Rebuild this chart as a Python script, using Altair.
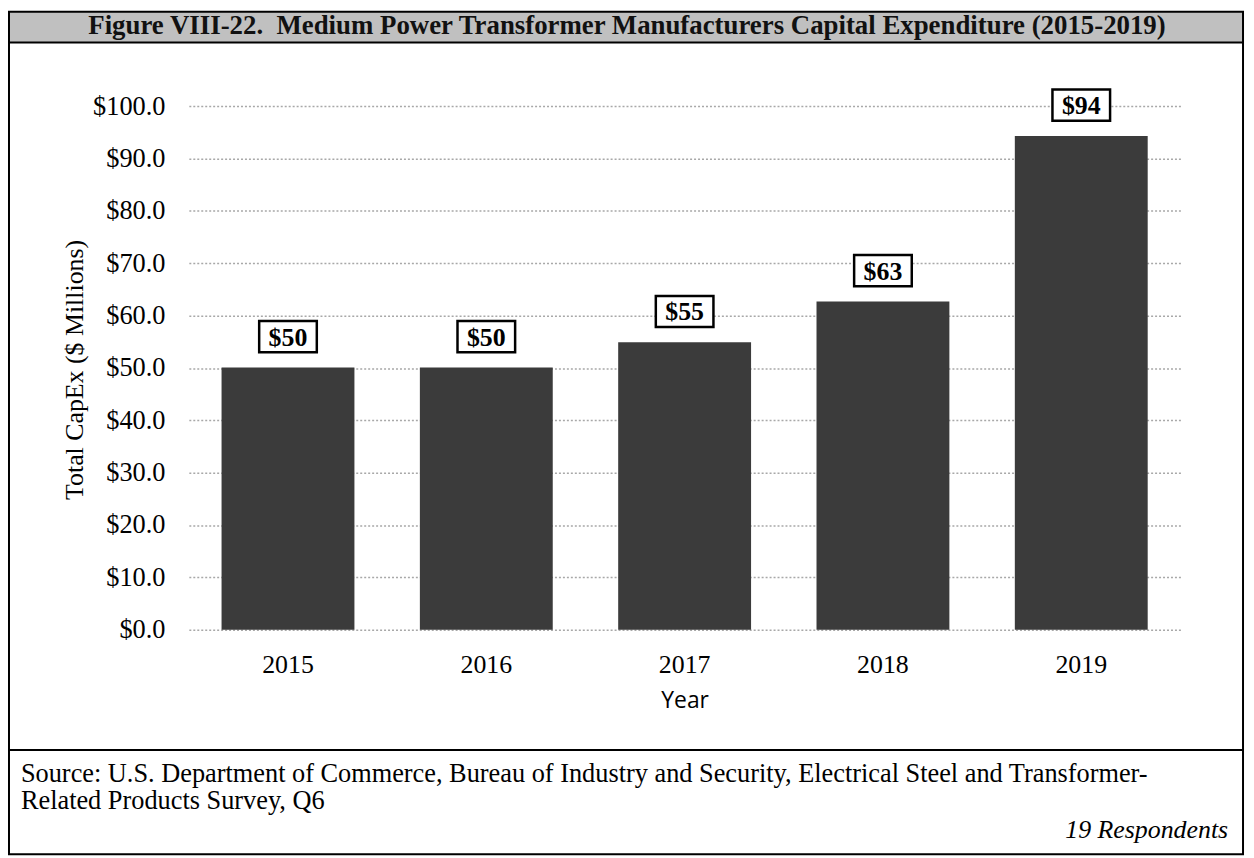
import altair as alt
import pandas as pd

years = ["2015", "2016", "2017", "2018", "2019"]
capex = [50.1, 50.1, 54.9, 62.7, 94.3]
labels = ["$50", "$50", "$55", "$63", "$94"]
y_ticks = [0, 10, 20, 30, 40, 50, 60, 70, 80, 90, 100]

title_text = "Figure VIII-22.\u00a0 Medium Power Transformer Manufacturers Capital Expenditure (2015-2019)"
source_line1 = "Source: U.S. Department of Commerce, Bureau of Industry and Security, Electrical Steel and Transformer-"
source_line2 = "Related Products Survey, Q6"
respondents = "19 Respondents"

df = pd.DataFrame({"Year": years, "CapEx": capex, "Label": labels})
one = pd.DataFrame({"k": [0]})

W, H = 998, 527
SERIF = "Liberation Serif"

x_enc = alt.X(
    "Year:N",
    scale=alt.Scale(paddingInner=0.33, paddingOuter=0.165),
    axis=alt.Axis(
        title="Year", labelAngle=0, domain=False, ticks=False, grid=False,
        labelFont=SERIF, labelFontSize=26, labelColor="black", labelPadding=22,
        titleFont="Open Sans", titleFontSize=23, titleFontWeight="normal",
        titleColor="black", titleY=71, titleBaseline="middle",
    ),
)
y_enc = alt.Y(
    "CapEx:Q",
    scale=alt.Scale(domain=[0, 100], nice=False),
    axis=alt.Axis(
        values=y_ticks, format="$.1f", title="Total CapEx ($ Millions)",
        domain=False, ticks=False, grid=True,
        gridColor="#a8a8a8", gridDash=[2, 2], gridWidth=1.5,
        labelFont=SERIF, labelFontSize=26.5, labelColor="black", labelPadding=24,
        titleFont=SERIF, titleFontSize=26, titleFontWeight="normal", titleColor="black",
        titleX=-115, titleY=265, titleBaseline="middle", titleAngle=-90,
    ),
)

bars = alt.Chart(df).mark_bar(color="#3b3b3b").encode(x=x_enc, y=y_enc)

boxes = alt.Chart(df).mark_point(
    shape="M-1,-0.54L1,-0.54L1,0.54L-1,0.54Z", size=3364,
    filled=True, fill="white", stroke="black", strokeWidth=2.5, opacity=1, yOffset=-31,
).encode(x=alt.X("Year:N"), y=alt.Y("CapEx:Q"))

texts = alt.Chart(df).mark_text(
    font=SERIF, fontSize=26, fontWeight="bold", color="black",
    baseline="middle", align="center", yOffset=-30,
).encode(x=alt.X("Year:N"), y=alt.Y("CapEx:Q"), text="Label:N")

title_bar = alt.Chart(one).mark_rect(fill="#c0c0c0").encode(
    x=alt.value(-181), x2=alt.value(1061), y=alt.value(-95), y2=alt.value(-64)
)
frame = alt.Chart(one).mark_rect(fillOpacity=0, stroke="black", strokeWidth=2).encode(
    x=alt.value(-181), x2=alt.value(1061), y=alt.value(-95), y2=alt.value(753)
)
rule_top = alt.Chart(one).mark_rule(color="black", strokeWidth=2).encode(
    x=alt.value(-181), x2=alt.value(1061), y=alt.value(-64)
)
rule_bottom = alt.Chart(one).mark_rule(color="black", strokeWidth=2).encode(
    x=alt.value(-181), x2=alt.value(1061), y=alt.value(648)
)
title_mark = alt.Chart(one).mark_text(
    font=SERIF, fontSize=27, fontWeight="bold", color="#111111",
    align="center", baseline="middle",
).encode(x=alt.value(441), y=alt.value(-81), text=alt.value(title_text))
src1 = alt.Chart(one).mark_text(
    font=SERIF, fontSize=26.5, color="black", align="left", baseline="middle",
).encode(x=alt.value(-169), y=alt.value(672), text=alt.value(source_line1))
src2 = alt.Chart(one).mark_text(
    font=SERIF, fontSize=26.5, color="black", align="left", baseline="middle",
).encode(x=alt.value(-169), y=alt.value(699), text=alt.value(source_line2))
resp = alt.Chart(one).mark_text(
    font=SERIF, fontSize=26, fontStyle="italic", color="black", align="right", baseline="middle",
).encode(x=alt.value(1046), y=alt.value(729), text=alt.value(respondents))

chart = alt.layer(
    title_bar, bars, boxes, texts, frame, rule_top, rule_bottom, title_mark, src1, src2, resp
).properties(
    width=W, height=H,
    padding={"left": 182, "top": 96, "right": 66, "bottom": 227},
    autosize=alt.AutoSizeParams(type="none"),
    background="white",
).configure_view(strokeWidth=0)

chart.save("out.html", embed_options={"renderer": "svg", "actions": False})
